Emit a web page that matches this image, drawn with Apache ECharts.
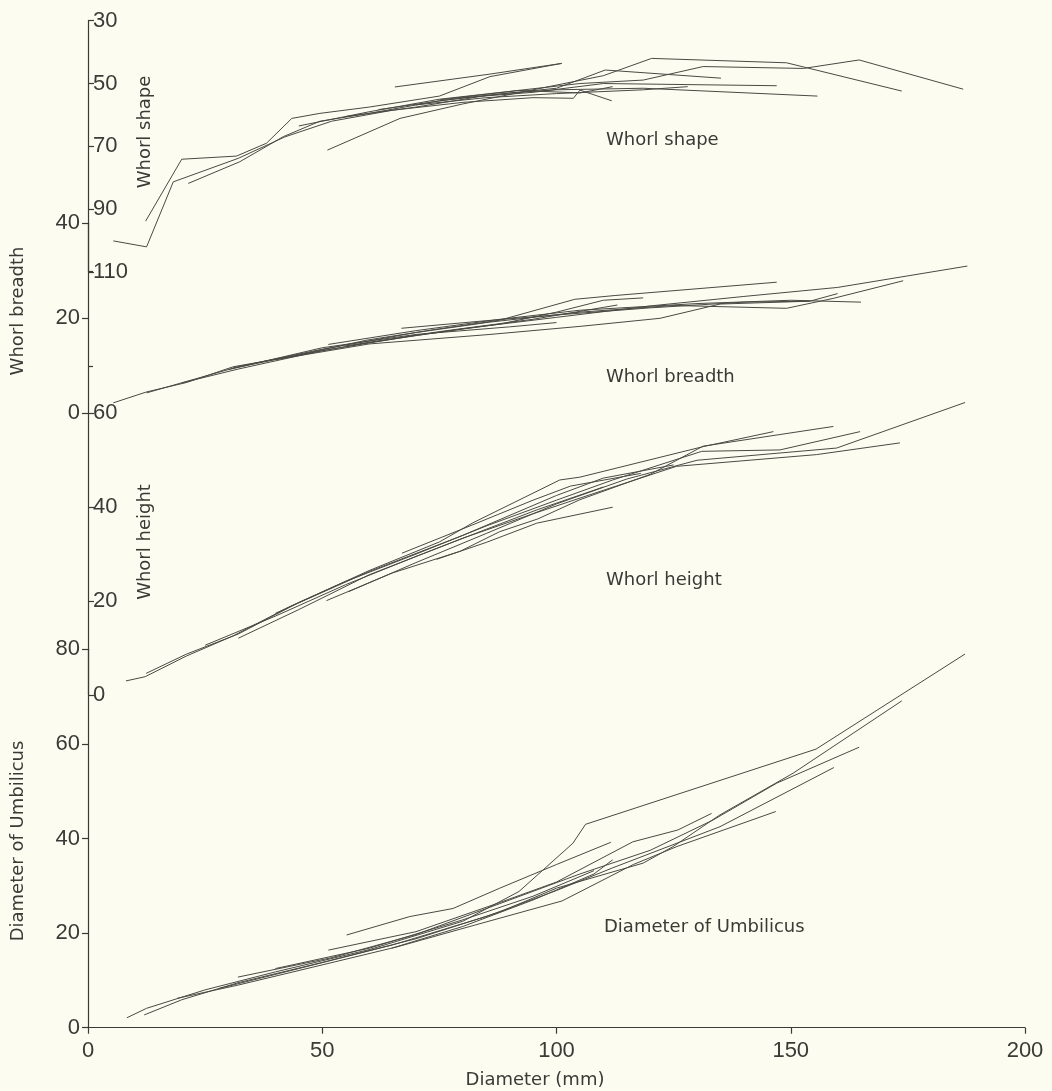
<!DOCTYPE html>
<html><head><meta charset="utf-8">
<script src="https://cdn.jsdelivr.net/npm/echarts@6/dist/echarts.min.js"></script>
<style>html,body{margin:0;padding:0;background:#fdfcf0}#c{width:1052px;height:1091px}</style>
</head><body><div id="c"></div><script>
// ---- data (x = shell diameter in mm, y = measurement) ----
const diameterTicks = [0, 50, 100, 150, 200];
const shapeTicks = [30, 50, 70, 90, 110];
const breadthTicks = [0, 20, 40];
const heightTicks = [0, 20, 40, 60];
const umbilicusTicks = [0, 20, 40, 60, 80];

const whorlShape = [
  [[5.4,100.1],[12.5,102],[18.2,81.3],[32.1,73.8],[42,67],[52,62],[65,58.5],[80,56],[95,54.5],[103.6,54.7],[105,52.1],[111.8,55.5]],
  [[12.3,93.8],[20,74.1],[31.7,73.1],[38.1,69],[43.5,61.1],[49.5,59.5],[60,57.5],[75,54],[85.8,47.8],[101.1,43.6]],
  [[21.4,81.8],[32.4,74.9],[41.7,66.9],[49.5,62],[60,59.5],[75,55.5],[90,53],[100,52],[118.5,51.5],[155.7,54]],
  [[51.1,71.2],[66.6,61.1],[80,56.5],[95,52],[110,47.5],[120.3,42],[149.1,43.4],[173.7,52.4]],
  [[65.5,51.1],[85.8,47],[101.1,43.6]],
  [[45,63.5],[60,59],[75,55],[90,52.5],[105,50],[118.5,48.9],[131.3,44.6],[152.7,45.2],[164.6,42.5],[186.8,51.8]],
  [[55,60.5],[70,57.5],[85,53.8],[100,51.5],[110.4,45.7],[135.1,48.3]],
  [[62,58.3],[80,54.5],[95,52.8],[110,50],[147,50.7]],
  [[70,56.8],[85,54.5],[100,53.2],[118.5,52],[128,51]],
  [[75,55.2],[92,52.2],[105,53],[112,51]]
];

const whorlBreadth = [
  [[5.4,2.2],[12.5,4.5],[21.1,6.5],[31,9.8],[43.1,11.9],[59.5,15.4],[75,17.8],[87.9,19.6],[103.9,24.0],[112.5,24.8],[147,27.6]],
  [[12.5,4.3],[21,6.7],[31,9.5],[45,12.3],[60,14.9],[80,17.8],[100,20.2],[120,22.6],[140,24.6],[160,26.5],[187.7,31.0]],
  [[20,6.4],[32,9.3],[50,13.2],[70,16.4],[88,18.8],[100,21.3],[110,23.8],[118.5,24.3]],
  [[31,9.6],[50,13.5],[70,17],[85.8,19.2],[105,21.3],[125,22.7],[149.1,22.1],[159.1,24.2],[174,27.9]],
  [[51.3,14.5],[70,17.4],[88,19.8],[105,21.7],[130,23.1],[150,23.8],[165,23.4]],
  [[66.9,17.9],[85,19.5],[100,20.7],[120,22.2],[140,23.4],[154,23.6]],
  [[40,11.3],[60,14.6],[85.8,16.6],[105,18.3],[122.1,20],[134.9,23],[154.1,23.6],[160,25.2]],
  [[55,14.2],[75,17.2],[95,19.8],[110,22.3],[113,22.8]],
  [[30,9.2],[50,13.8],[70,16.6],[90,18.2],[100,19.1]]
];

const whorlHeight = [
  [[8.1,3.0],[12.2,3.9],[21,8.3],[31,12.6],[43,18.8],[55,24.2],[70,30],[85,36],[100,41.5],[112,45.8],[131,51.9],[147.7,52.2],[164.8,56.1]],
  [[12.4,4.6],[21,8.7],[32.1,13],[45,19.7],[60,26.5],[75,32.6],[82.2,36.7],[100.7,45.8],[105,46.4],[131.3,52.9],[146.3,56.1]],
  [[32.1,12.1],[45,18.2],[60,25.6],[80,33.4],[95,38.6],[110,43.6],[125.6,48.7],[155.5,51.2],[173.3,53.7]],
  [[50.9,20.1],[65,26],[79.4,30.6],[87.9,34.8],[96,37.5],[105,41.6],[120,47],[131.3,53],[159.1,57.2]],
  [[55.6,22],[70,28.2],[85,34.4],[100,40.7],[115,46],[130,50],[159.8,52.6],[187.2,62.3]],
  [[67,30.2],[82,36.2],[95,41.5],[103,44.5],[118,47.2]],
  [[74.4,28.9],[85,32.5],[95.8,36.6],[112,40.0]],
  [[40,17.4],[60,26.3],[80,34],[100,42.5],[110,46.2],[125,49]],
  [[25,10.6],[40,16.8],[55,23.5],[70,29.5],[85,35.3],[96,39.5],[110,44.3]]
];

const umbilicus = [
  [[8.3,2.1],[12.5,4.1],[25,8.0],[40,11.8],[60,16.5],[80,22.5],[92,28.8],[103.5,39.0],[106.2,43.0],[155.4,58.9],[187.2,79.0]],
  [[12,2.7],[20,5.9],[32,9.5],[50,13.8],[70,18.8],[88,24.5],[100,29.5],[118.5,34.8],[124.9,38.3],[134.9,45.0],[150.5,53.8],[173.7,69.1]],
  [[19,6.2],[32,9.0],[48,12.8],[66,17.1],[82.6,21.7],[101.2,26.8],[116.4,34.5],[125.7,38.3],[146.8,45.7]],
  [[28,8.3],[45,12.5],[65,17.5],[85,23.5],[100,29.0],[112,33.8],[134.9,42.5],[159.2,55.0]],
  [[32,10.7],[52,14.8],[70,19.7],[90,27],[105,32.5],[120,37.5],[133.4,43.9],[147,51.7],[164.6,59.3]],
  [[51.3,16.4],[70,20.3],[88,26.5],[100,30.8],[116.3,39.3],[125.9,41.8],[133.1,45.3]],
  [[55.2,19.6],[68.7,23.5],[77.9,25.2],[87.9,29.5],[100,34.5],[111.6,39.2]],
  [[64.8,16.8],[80,21.4],[95,27],[108,32.5],[112,35.5]],
  [[40,12.5],[60,16.8],[80,22.8],[95,27.8],[108,33.2]]
];

// ---- styling / layout ----
const INK = '#3a3a36';
const LINE = '#4a4a45';
const FONT = 'Liberation Sans';
const LABEL_FONT = 'DejaVu Sans';
const panels = [
  {top: 20.7, height: 251.3},
  {top: 223.3, height: 190},
  {top: 413.3, height: 281.7},
  {top: 649.3, height: 378.4}
];
const grid = panels.map(p => ({left: 88, right: 27, top: p.top, height: p.height}));

const xAxis = panels.map((p, i) => ({
  gridIndex: i, type: 'value', min: diameterTicks[0], max: diameterTicks[diameterTicks.length - 1],
  interval: diameterTicks[1] - diameterTicks[0],
  show: i === 3,
  axisLine: {lineStyle: {color: INK, width: 1.2}},
  axisTick: {length: 6, lineStyle: {color: INK, width: 1.2}},
  axisLabel: {color: INK, fontSize: 22, fontFamily: FONT, margin: 12},
  splitLine: {show: false}
}));

function yAx(i, ticks, inside, extra) {
  return Object.assign({
    gridIndex: i, type: 'value', position: 'left', min: ticks[0], max: ticks[ticks.length - 1],
    interval: ticks[1] - ticks[0],
    axisLine: {show: true, lineStyle: {color: INK, width: 1.2}},
    axisTick: {show: true, inside: inside, length: 6, lineStyle: {color: INK, width: 1.2}},
    axisLabel: {inside: inside, color: INK, fontSize: 22, fontFamily: FONT, margin: inside ? 5 : 8},
    splitLine: {show: false}
  }, extra || {});
}
const yAxis = [
  yAx(0, shapeTicks, true, {inverse: true}),
  yAx(1, breadthTicks, false),
  yAx(2, heightTicks, true),
  yAx(3, umbilicusTicks, false),
  {gridIndex: 1, type: 'value', position: 'left', min: 0, max: 40, interval: 20,
   axisLine: {show: false}, axisLabel: {show: false}, splitLine: {show: false},
   axisTick: {show: false, inside: true},
   minorTick: {show: true, splitNumber: 2, length: 5, lineStyle: {color: INK, width: 1.2}}}
];

function mk(lines, idx) {
  return lines.map(d => ({
    type: 'line', xAxisIndex: idx, yAxisIndex: idx, data: d,
    showSymbol: false, symbol: 'none', silent: true, clip: false,
    lineStyle: {width: 1, color: LINE}, z: 2
  }));
}
const series = [].concat(mk(whorlShape, 0), mk(whorlBreadth, 1), mk(whorlHeight, 2), mk(umbilicus, 3));

function txt(text, x, y, rot, align) {
  return {type: 'text', x: x, y: y, rotation: rot || 0, silent: true,
    style: {text: text, fill: INK, font: '18px "' + LABEL_FONT + '"', align: align || 'left', verticalAlign: 'middle'}};
}
const graphic = [
  txt('Whorl shape', 145, 132, Math.PI / 2, 'center'),
  txt('Whorl breadth', 18, 311, Math.PI / 2, 'center'),
  txt('Whorl height', 145, 542, Math.PI / 2, 'center'),
  txt('Diameter of Umbilicus', 18, 841, Math.PI / 2, 'center'),
  txt('Whorl shape', 606, 140),
  txt('Whorl breadth', 606, 377),
  txt('Whorl height', 606, 580),
  txt('Diameter of Umbilicus', 604, 927),
  txt('Diameter (mm)', 535, 1080, 0, 'center')
];

const chart = echarts.init(document.getElementById('c'), null, {renderer: 'canvas'});
chart.setOption({
  backgroundColor: '#fdfcf0',
  animation: false,
  grid: grid, xAxis: xAxis, yAxis: yAxis, series: series, graphic: graphic
});
</script></body></html>
